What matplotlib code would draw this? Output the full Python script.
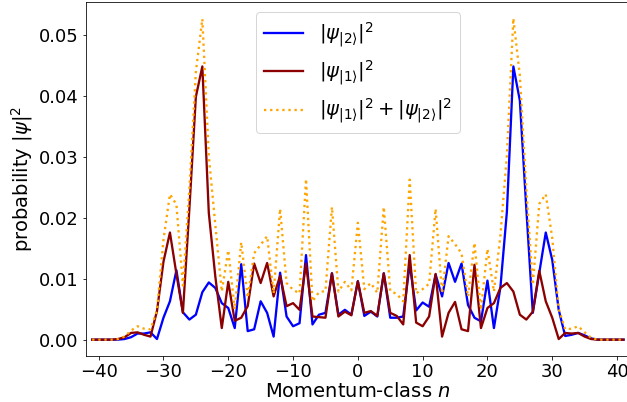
import numpy as np
import matplotlib
matplotlib.use("Agg")
import matplotlib.pyplot as plt

# momentum classes n = -41 ... 41
n = np.arange(-41, 42)

prob_1 = [0, 0, 0, 0, 0.0001, 0.0004, 0.0011, 0.0012, 0.0008, 0.0005,
          0.0047, 0.0128, 0.0176, 0.0108, 0.0044, 0.0215, 0.0399, 0.0449, 0.0208, 0.0104,
          0.0019, 0.0095, 0.0031, 0.0036, 0.0055, 0.0125, 0.0093, 0.0126, 0.0071, 0.0105,
          0.0055, 0.0060, 0.0049, 0.0125, 0.0038, 0.0037, 0.0036, 0.0109, 0.0038, 0.0046,
          0.0040, 0.0096, 0.0044, 0.0047, 0.0039, 0.0109, 0.0044, 0.0039, 0.0025, 0.0139,
          0.0028, 0.0022, 0.0038, 0.0108, 0.0005, 0.0044, 0.0062, 0.0017, 0.0014, 0.0123,
          0.0019, 0.0052, 0.0060, 0.0085, 0.0093, 0.0079, 0.0041, 0.0033, 0.0046, 0.0113,
          0.0063, 0.0036, 0.0001, 0.0011, 0.0010, 0.0011, 0.0005, 0.0001, 0, 0,
          0, 0, 0]

prob_2 = [0, 0, 0, 0, 0, 0.0001, 0.0004, 0.0010, 0.0010, 0.0012,
          0.0001, 0.0036, 0.0063, 0.0114, 0.0045, 0.0033, 0.0041, 0.0078, 0.0094, 0.0085,
          0.0060, 0.0052, 0.0019, 0.0124, 0.0014, 0.0017, 0.0063, 0.0044, 0.0005, 0.0110,
          0.0038, 0.0022, 0.0027, 0.0139, 0.0025, 0.0041, 0.0044, 0.0109, 0.0041, 0.0049,
          0.0041, 0.0096, 0.0039, 0.0046, 0.0038, 0.0109, 0.0036, 0.0036, 0.0038, 0.0124,
          0.0048, 0.0061, 0.0054, 0.0107, 0.0071, 0.0126, 0.0095, 0.0125, 0.0057, 0.0036,
          0.0030, 0.0097, 0.0019, 0.0086, 0.0210, 0.0449, 0.0393, 0.0215, 0.0044, 0.0110,
          0.0176, 0.0131, 0.0049, 0.0006, 0.0008, 0.0011, 0.0007, 0.0002, 0, 0,
          0, 0, 0]

prob_1 = np.array(prob_1)
prob_2 = np.array(prob_2)

plt.rcParams['font.size'] = 18

fig = plt.figure(figsize=(627 / 72, 402 / 72), dpi=72)
ax = fig.add_axes([85.7 / 627, 46.3 / 402, 544.3 / 627, 353.4 / 402])

ax.plot(n, prob_2, color="blue", lw=2.3, label=r"$|\psi_{|2\rangle}|^2$")
ax.plot(n, prob_1, color="darkred", lw=2.3, label=r"$|\psi_{|1\rangle}|^2$")
ax.plot(n, prob_1 + prob_2, color="orange", lw=2.3, ls=":",
        label=r"$|\psi_{|1\rangle}|^2+|\psi_{|2\rangle}|^2$")

ax.set_xlim(-42, 42)
ax.set_xlabel(r"Momentum-class $n$", fontsize=19.5, labelpad=1.5)
ax.set_ylabel(r"probability $|\psi|^2$", fontsize=19.5)
ax.legend(loc="upper center", fontsize=19.5)

fig.savefig("out.png", dpi=72)
